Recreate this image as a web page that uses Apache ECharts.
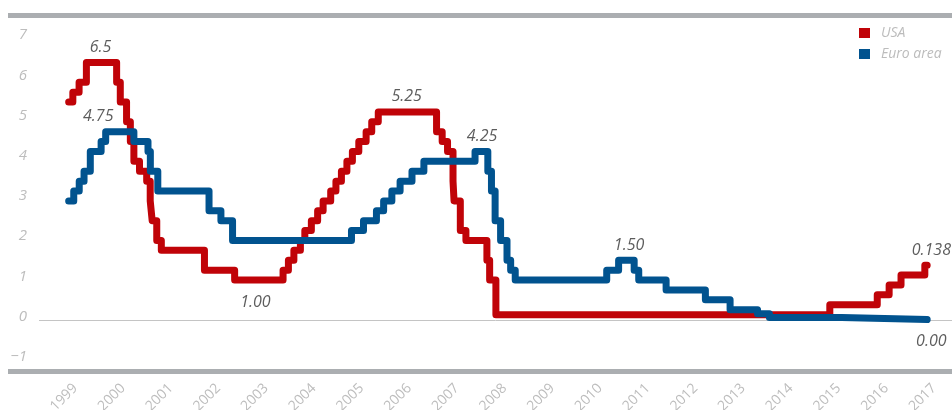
<!DOCTYPE html>
<html>
<head>
<meta charset="utf-8">
<script src="https://cdn.jsdelivr.net/npm/echarts@6/dist/echarts.min.js"></script>
<style>
  html, body { margin: 0; padding: 0; background: #ffffff; }
  #chart { width: 952px; height: 410px; }
</style>
</head>
<body>
<div id="chart"></div>
<script>
// Policy rates: each date starts a new level that holds until the next change.
const usaDates = [
  '2000-01-01', '2000-02-02', '2000-03-21', '2000-05-16',
  '2001-01-03', '2001-01-31', '2001-03-20', '2001-04-18', '2001-05-15', '2001-06-27',
  '2001-08-21', '2001-09-17', '2001-10-02', '2001-11-06', '2001-12-11',
  '2002-11-06', '2003-06-25',
  '2004-06-30', '2004-08-10', '2004-09-21', '2004-11-10', '2004-12-14',
  '2005-02-02', '2005-03-22', '2005-05-03', '2005-06-30', '2005-08-09', '2005-09-20',
  '2005-11-01', '2005-12-13',
  '2006-01-31', '2006-03-28', '2006-05-10', '2006-06-29',
  '2007-09-18', '2007-10-31', '2007-12-11',
  '2008-01-22', '2008-01-30', '2008-03-18', '2008-04-30', '2008-10-08', '2008-10-29', '2008-12-16',
  '2015-12-16', '2016-12-14', '2017-03-15', '2017-06-14', '2017-12-13'
];
const usaRates = [
  5.5, 5.75, 6.0, 6.5,
  6.0, 5.5, 5.0, 4.5, 4.0, 3.75,
  3.5, 3.0, 2.5, 2.0, 1.75,
  1.25, 1.0,
  1.25, 1.5, 1.75, 2.0, 2.25,
  2.5, 2.75, 3.0, 3.25, 3.5, 3.75,
  4.0, 4.25,
  4.5, 4.75, 5.0, 5.25,
  4.75, 4.5, 4.25,
  3.5, 3.0, 2.25, 2.0, 1.5, 1.0, 0.125,
  0.375, 0.625, 0.875, 1.125, 1.375
];

const euroDates = [
  '2000-01-01', '2000-02-09', '2000-03-22', '2000-04-28', '2000-06-15', '2000-09-06', '2000-10-11',
  '2001-05-15', '2001-08-31', '2001-09-18', '2001-11-14',
  '2002-12-11', '2003-03-12', '2003-06-09',
  '2005-12-06', '2006-03-08', '2006-06-15', '2006-08-09', '2006-10-11', '2006-12-13',
  '2007-03-14', '2007-06-13',
  '2008-07-09', '2008-10-15', '2008-11-12', '2008-12-10',
  '2009-01-21', '2009-03-11', '2009-04-08', '2009-05-13',
  '2011-04-13', '2011-07-13', '2011-11-09', '2011-12-14',
  '2012-07-11', '2013-05-08', '2013-11-13',
  '2014-06-11', '2014-09-10', '2016-03-16'
];
const euroRates = [
  3.0, 3.25, 3.5, 3.75, 4.25, 4.5, 4.75,
  4.5, 4.25, 3.75, 3.25,
  2.75, 2.5, 2.0,
  2.25, 2.5, 2.75, 3.0, 3.25, 3.5,
  3.75, 4.0,
  4.25, 3.75, 3.25, 2.5,
  2.0, 1.5, 1.25, 1.0,
  1.25, 1.5, 1.25, 1.0,
  0.75, 0.5, 0.25,
  0.15, 0.05, 0.0
];
const lastDate = '2017-12-31';

// Axis labels
const yearLabels = [1999, 2000, 2001, 2002, 2003, 2004, 2005, 2006, 2007, 2008,
                    2009, 2010, 2011, 2012, 2013, 2014, 2015, 2016, 2017];
const rateTicks = [-1, 0, 1, 2, 3, 4, 5, 6, 7];

// Callouts
const usaNoteDates  = ['2000-09-01', '2007-02-01', '2003-12-01', '2018-02-01'];
const usaNoteValues = [6.5, 5.25, 1.0, 1.375];
const usaNoteTexts  = ['6.5', '5.25', '1.00', '0.138'];
const usaNoteBelow  = [false, false, true, false];

const euroNoteDates  = ['2000-08-15', '2008-09-01', '2011-10-01', '2018-02-01'];
const euroNoteValues = [4.75, 4.25, 1.5, 0.0];
const euroNoteTexts  = ['4.75', '4.25', '1.50', '0.00'];
const euroNoteBelow  = [false, false, false, true];

const RED = '#c00308';
const BLUE = '#01538f';
const FONT = "'Open Sans', 'Noto Sans', sans-serif";

// Date string -> fractional year
function yr(s) {
  const [y, m, d] = s.split('-').map(Number);
  const start = Date.UTC(y, 0, 1);
  const next = Date.UTC(y + 1, 0, 1);
  return y + (Date.UTC(y, m - 1, d) - start) / (next - start);
}

function stepPoints(dates, rates) {
  const pts = dates.map((d, i) => [yr(d), rates[i]]);
  pts.push([yr(lastDate), rates[rates.length - 1]]);
  return pts;
}

// Text callouts as an invisible scatter layer
function noteSeries(dates, values, texts, below) {
  return {
    type: 'scatter',
    silent: true,
    symbolSize: 0,
    z: 6,
    data: dates.map((d, i) => ({
      value: [yr(d), values[i]],
      label: {
        show: true,
        position: below[i] ? 'bottom' : 'top',
        distance: below[i] ? 14 : 7,
        formatter: texts[i],
        color: '#333333',
        fontFamily: FONT,
        fontStyle: 'italic',
        fontSize: 16
      }
    }))
  };
}

// Year labels sit just after each year's close
const yearTickValues = yearLabels.map(y => y + 1.14);

// Rate labels drift slightly upward toward the top of the scale
const rateRich = {};
rateTicks.forEach(v => {
  const lift = Math.round(2 * (2.9 + 0.68 * v));
  rateRich['r' + (v + 1)] = { padding: [0, 0, lift, 0] };
});

function rateSeries(name, color, data, z) {
  return {
    name: name,
    type: 'line',
    step: 'end',
    clip: false,
    data: data,
    symbol: 'none',
    color: color,
    lineStyle: { width: 7, color: color, cap: 'round', join: 'round' },
    z: z
  };
}

const xMin = yr('1999-05-19');
const xMax = yr('2018-07-09');

const frameBars = [
  { type: 'rect', left: 8, top: 13, shape: { width: 944, height: 5 }, style: { fill: '#abaeb1' }, silent: true, z: 0 },
  { type: 'rect', left: 8, top: 369, shape: { width: 944, height: 5 }, style: { fill: '#abaeb1' }, silent: true, z: 0 }
];

const chart = echarts.init(document.getElementById('chart'), null, { renderer: 'canvas' });

chart.setOption({
  animation: false,
  backgroundColor: '#ffffff',
  grid: { left: 39, right: 0, top: 15, bottom: 39, outerBoundsMode: 'none' },
  legend: {
    data: ['USA', 'Euro area'],
    orient: 'vertical',
    left: 859,
    top: 26,
    padding: 0,
    icon: 'rect',
    itemWidth: 11,
    itemHeight: 10,
    itemGap: 7,
    textStyle: { color: '#bcbcbc', fontFamily: FONT, fontStyle: 'italic', fontSize: 14, padding: [0, 0, 0, 6] }
  },
  xAxis: {
    type: 'value',
    min: xMin,
    max: xMax,
    axisLine: { show: false, onZero: false },
    axisTick: { show: false },
    splitLine: { show: false },
    axisLabel: {
      customValues: yearTickValues,
      formatter: v => String(Math.floor(v) - 1),
      rotate: 45,
      margin: 15,
      color: '#bdbdbd',
      fontFamily: FONT,
      fontSize: 14
    }
  },
  yAxis: {
    type: 'value',
    min: -1.3,
    max: 7.7,
    axisLine: { show: false },
    axisTick: { show: false },
    splitLine: { show: false },
    axisLabel: {
      customValues: rateTicks,
      formatter: v => '{r' + (v + 1) + '|' + (v < 0 ? '\u2212' + Math.abs(v) : String(v)) + '}',
      rich: rateRich,
      margin: 12,
      color: '#bdbdbd',
      fontFamily: FONT,
      fontStyle: 'italic',
      fontSize: 15
    }
  },
  graphic: frameBars,
  series: [
    rateSeries('USA', RED, stepPoints(usaDates, usaRates), 3),
    rateSeries('Euro area', BLUE, stepPoints(euroDates, euroRates), 4),
    noteSeries(usaNoteDates, usaNoteValues, usaNoteTexts, usaNoteBelow),
    noteSeries(euroNoteDates, euroNoteValues, euroNoteTexts, euroNoteBelow)
  ]
});

// Zero baseline, placed through the axis scale and kept beneath the rate lines
const p0 = chart.convertToPixel({ gridIndex: 0 }, [xMin, 0]);
const p1 = chart.convertToPixel({ gridIndex: 0 }, [xMax, 0]);
chart.setOption({
  graphic: frameBars.concat([{
    type: 'line',
    silent: true,
    z: -10,
    shape: { x1: p0[0], y1: Math.round(p0[1]) + 0.5, x2: p1[0], y2: Math.round(p1[1]) + 0.5 },
    style: { stroke: '#c4c4c4', lineWidth: 1 }
  }])
});
</script>
</body>
</html>
